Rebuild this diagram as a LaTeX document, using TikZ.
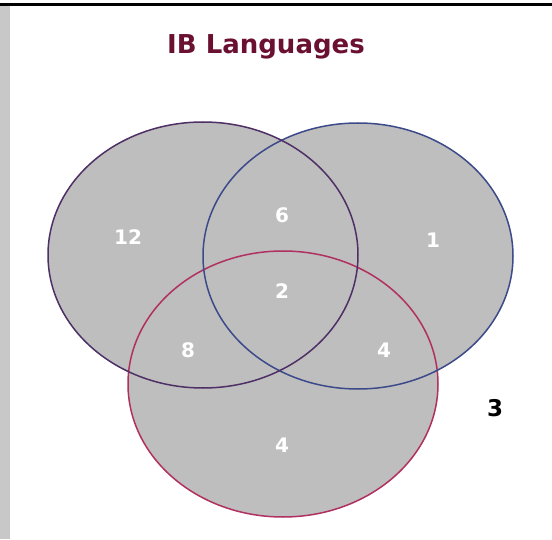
\documentclass[tikz,border=0pt]{standalone}
\usepackage{fontspec}
\setmainfont{DejaVu Sans}
\definecolor{vfill}{HTML}{BEBEBE}
\definecolor{lineA}{HTML}{4E2F66}
\definecolor{lineB}{HTML}{3C4A8A}
\definecolor{lineC}{HTML}{B03060}
\definecolor{titlecol}{HTML}{6A1030}
\definecolor{barcol}{HTML}{C8C8C8}
\tikzset{
  setfill/.style={fill=vfill},
  setline/.style={line width=1.5pt},
  num/.style={text=white,font=\bfseries\fontsize{20}{20}\selectfont,inner sep=0pt},
}
\begin{document}
\begin{tikzpicture}[x=1pt,y=1pt]
\useasboundingbox (0,0) rectangle (552,539);
\fill[white] (0,0) rectangle (552,539);
\fill[barcol] (0,0) rectangle (10,533);
\fill[black] (0,533) rectangle (552,536);
\node[text=titlecol,font=\bfseries\fontsize{26}{26}\selectfont] (title) at (266,492) {IB Languages};
\coordinate (A) at (203,284);
\coordinate (B) at (358,283);
\coordinate (C) at (283,155);
\fill[setfill] (A) ellipse [x radius=155, y radius=133];
\fill[setfill] (B) ellipse [x radius=155, y radius=133];
\fill[setfill] (C) ellipse [x radius=155, y radius=133];
\draw[setline,lineC] (C) ellipse [x radius=155, y radius=133];
\draw[setline,lineB] (B) ellipse [x radius=155, y radius=133];
\draw[setline,lineA] (A) ellipse [x radius=155, y radius=133];
\node[num] (n12) at (128,302) {12};
\node[num] (n6) at (282,324) {6};
\node[num] (n1) at (433,299) {1};
\node[num] (n2) at (282,248) {2};
\node[num] (n8) at (188,189) {8};
\node[num] (n4a) at (384,189) {4};
\node[num] (n4b) at (282,94) {4};
\node[num,text=black,font=\bfseries\fontsize{23}{23}\selectfont] (n3) at (495,131) {3};
\end{tikzpicture}
\end{document}
